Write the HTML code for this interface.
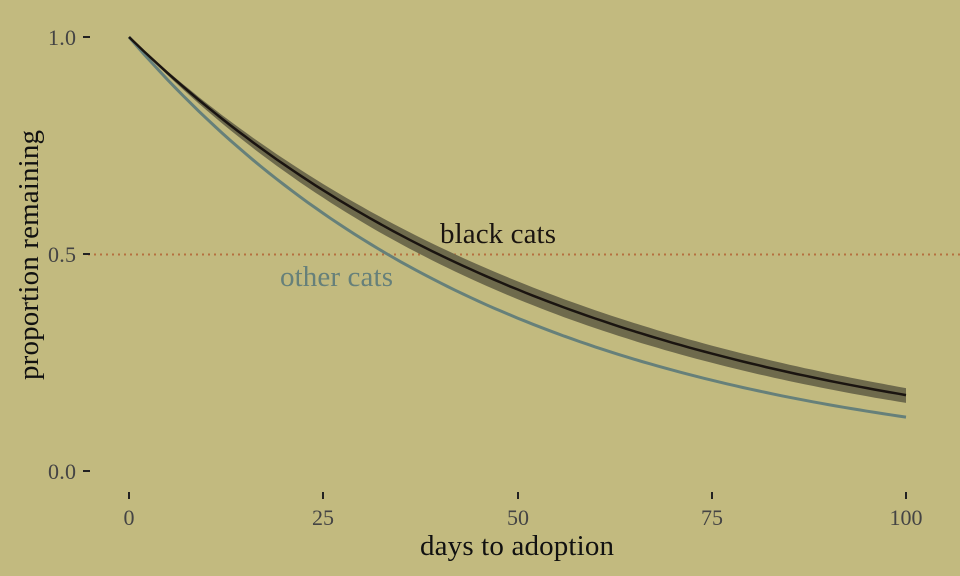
<!DOCTYPE html>
<html><head><meta charset="utf-8"><style>
html,body{margin:0;padding:0;background:#C2BA7F;}
svg{display:block;font-family:"Liberation Serif",serif;}
</style></head><body>
<svg id="s" width="960" height="576" viewBox="0 0 960 576">
<rect width="960" height="576" fill="#C2BA7F"/>
<line x1="88" y1="254.5" x2="960" y2="254.5" stroke="#B5703F" stroke-width="2" stroke-dasharray="2,4"/>
<path id="band" fill="#6E6A4C" stroke="none"/>
<path id="other" fill="none" stroke="#66807A" stroke-width="3"/>
<path id="black" fill="none" stroke="#1a1410" stroke-width="2.5"/>
<g stroke="#222" stroke-width="2">
<line x1="83" y1="37" x2="90" y2="37"/><line x1="83" y1="254" x2="90" y2="254"/><line x1="83" y1="471" x2="90" y2="471"/>
<line x1="129" y1="492" x2="129" y2="499"/><line x1="323" y1="492" x2="323" y2="499"/><line x1="518" y1="492" x2="518" y2="499"/><line x1="712" y1="492" x2="712" y2="499"/><line x1="906" y1="492" x2="906" y2="499"/>
</g>
<g fill="#444" font-size="22" text-anchor="end">
<text x="76" y="45" textLength="28">1.0</text><text x="76" y="262" textLength="28">0.5</text><text x="76" y="479" textLength="28">0.0</text>
</g>
<g fill="#444" font-size="22" text-anchor="middle">
<text x="129" y="525">0</text><text x="323" y="525">25</text><text x="518" y="525">50</text><text x="712" y="525">75</text><text x="906" y="525">100</text>
</g>
<text x="420" y="555" font-size="29" textLength="194" fill="#111">days to adoption</text>
<text transform="translate(38,380) rotate(-90)" font-size="29" textLength="250" fill="#111">proportion remaining</text>
<text x="440" y="243" font-size="29" textLength="116" fill="#1a1410">black cats</text>
<text x="280" y="286" font-size="29" textLength="113" fill="#66807A">other cats</text>
</svg>
<script>
function X(t){return 129+t*7.77;}function Y(p){return 471-p*434;}
function pts(k){var a=[];for(var t=0;t<=100;t+=1)a.push(X(t).toFixed(1)+","+Y(Math.exp(-k*t)).toFixed(1));return a;}
document.getElementById('black').setAttribute('d','M'+pts(0.01743).join('L'));
document.getElementById('other').setAttribute('d','M'+pts(0.02086).join('L'));
var u=pts(0.01655),l=pts(0.01852).reverse();
document.getElementById('band').setAttribute('d','M'+u.join('L')+'L'+l.join('L')+'Z');
</script>
</body></html>
